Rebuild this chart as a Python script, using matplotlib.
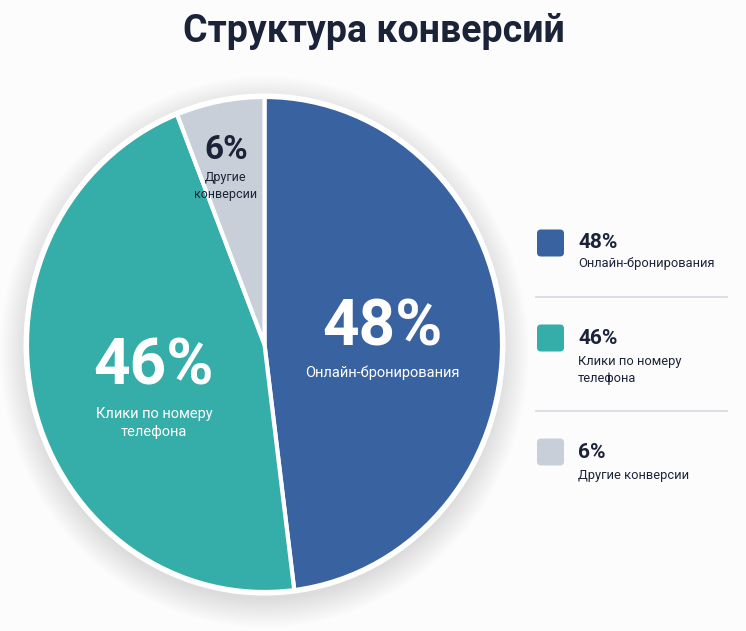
import matplotlib
matplotlib.use("Agg")
import matplotlib.pyplot as plt
from matplotlib.patches import Circle, FancyBboxPatch

plt.rcParams['font.family'] = ['Roboto', 'DejaVu Sans']

# ---- data ----
categories = ["Онлайн-бронирования", "Клики по номеру\nтелефона", "Другие\nконверсии"]
legend_labels = ["Онлайн-бронирования", "Клики по номеру\nтелефона", "Другие конверсии"]
values = [48, 46, 6]
colors = ["#3962a0", "#35ada8", "#c9cfd9"]
title = "Структура конверсий"

W, H = 746, 631
fig = plt.figure(figsize=(W / 100, H / 100), dpi=100)
fig.patch.set_facecolor("#fcfcfd")
ax = fig.add_axes([0, 0, 1, 1])
ax.set_xlim(0, W)
ax.set_ylim(0, H)
ax.axis("off")

def Y(v):
    return H - v

# pie axes (slightly taller than wide, as in the reference)
pl, pr, pt, pb = 27, 502, 97, 592
pax = fig.add_axes([pl / W, (H - pb) / H, (pr - pl) / W, (pb - pt) / H])
for i in range(16):
    pax.add_patch(Circle((0, -0.03), 1.0 + i * 0.0075, facecolor="#1b2338",
                         edgecolor="none", alpha=0.006, zorder=0, clip_on=False))
wedges, _ = pax.pie(values, colors=colors, startangle=90, counterclock=False,
                    radius=1, wedgeprops=dict(edgecolor="white", linewidth=3))
for w in wedges:
    w.set_zorder(2)
pax.add_patch(Circle((0, 0), 1.006, facecolor="none", edgecolor="white",
                     linewidth=3, zorder=3, clip_on=False))
pax.set_xlim(-1, 1)
pax.set_ylim(-1, 1)
pax.set_aspect("auto")
pax.axis("off")

dark = "#1b2338"
# in-pie labels (drawn on a top overlay axes)
tax = fig.add_axes([0, 0, 1, 1])
tax.set_xlim(0, W)
tax.set_ylim(0, H)
tax.axis("off")
pie_pos = [(382, 328, 373), (154, 367, 423), (226, 150, 186)]
pct_size = [46, 46, 24]
sub_size = [10.5, 10.5, 9]
txt_col = ["white", "white", dark]
for k in range(3):
    x, yp, ys = pie_pos[k]
    tax.text(x, Y(yp), f"{values[k]}%", ha="center", va="center",
             fontsize=pct_size[k], fontweight="bold", color=txt_col[k], zorder=5)
    tax.text(x, Y(ys), categories[k], ha="center", va="center",
             fontsize=sub_size[k], color=txt_col[k], linespacing=1.4, zorder=5)

# legend
leg_y = [243, 338, 452]
sub_y = [264, 370, 475]
for k in range(3):
    tax.add_patch(FancyBboxPatch((537 + 4, Y(leg_y[k]) - 13.5 + 4), 27 - 8, 27 - 8,
                                 boxstyle="round,pad=4", facecolor=colors[k],
                                 edgecolor="none", zorder=4))
    tax.text(578, Y(leg_y[k]), f"{values[k]}%", ha="left", va="center",
             fontsize=15, fontweight="bold", color=dark, zorder=5)
    tax.text(578, Y(sub_y[k]), legend_labels[k], ha="left", va="center",
             fontsize=9.3, color=dark, linespacing=1.4, zorder=5)

for yy in [297, 411]:
    tax.plot([536, 727], [Y(yy), Y(yy)], color="#d5d9e0", linewidth=1.2, zorder=4)

tax.text(374, Y(32), title, ha="center", va="center", fontsize=27,
         fontweight="bold", color=dark)

fig.savefig("out.png", dpi=100, facecolor=fig.get_facecolor())
